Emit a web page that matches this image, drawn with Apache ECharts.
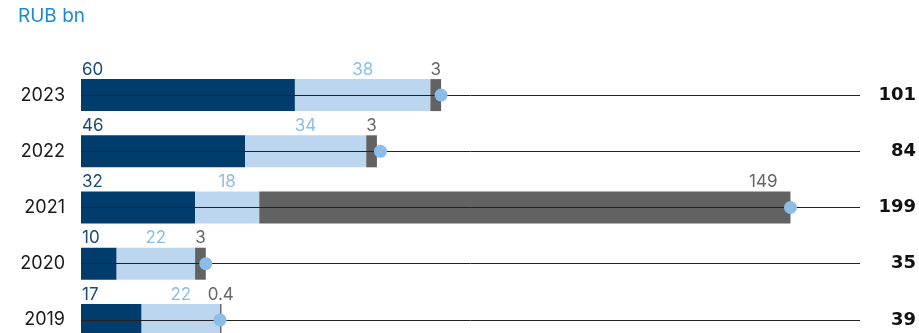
<!DOCTYPE html>
<html>
<head>
<meta charset="utf-8">
<script src="https://cdn.jsdelivr.net/npm/echarts@6/dist/echarts.min.js"></script>
<style>
  html, body { margin: 0; padding: 0; background: #fff; overflow: hidden; }
  #chart { width: 919px; height: 360px; }
</style>
</head>
<body>
<div id="chart"></div>
<script>
// Years, top to bottom
const years = ['2023', '2022', '2021', '2020', '2019'];
// Stacked components, RUB bn
const partA = [60, 46, 32, 10, 17];
const partB = [38, 34, 18, 22, 22];
const partC = [3, 3, 149, 3, 0.4];
// Reported totals, RUB bn
const totals = [101, 84, 199, 35, 39];

const FONT = 'Inter, "Noto Sans", sans-serif';
const NAVY = '#003c6c';
const LIGHT = '#bcd6f0';
const GREY = '#626262';

const chart = echarts.init(document.getElementById('chart'));

const labelBase = { show: true, fontFamily: FONT, fontSize: 17, distance: 1 };

chart.setOption({
  animation: false,
  title: {
    text: 'RUB bn', left: 13, top: 2,
    textStyle: { fontFamily: FONT, fontSize: 19, fontWeight: 'normal', color: '#1a8ad4' }
  },
  grid: { left: 81, right: 59, top: 67, height: 281, containLabel: false },
  xAxis: {
    type: 'value', min: 0, max: 218.5, show: false
  },
  yAxis: [
    {
      type: 'category', data: years, inverse: true,
      axisLine: { show: false }, axisTick: { show: false }, splitLine: { show: false },
      axisLabel: { fontFamily: FONT, fontSize: 18, color: '#1a1a1a', margin: 16 }
    },
    {
      type: 'category', data: years, inverse: true, position: 'right',
      axisLine: { show: false }, axisTick: { show: false }, splitLine: { show: false },
      axisLabel: {
        fontFamily: '"DejaVu Sans", sans-serif', fontSize: 18, fontWeight: 'bold', color: '#111',
        align: 'right', margin: 56,
        formatter: (v, i) => String(totals[i])
      }
    }
  ],
  series: [
    {
      type: 'bar', stack: 'sum', data: partA, barWidth: 32,
      itemStyle: { color: NAVY },
      label: Object.assign({}, labelBase, {
        position: [0, 0], align: 'left', verticalAlign: 'bottom', offset: [1, -1],
        color: '#1b4a76'
      }),
      z: 2
    },
    {
      type: 'bar', stack: 'sum', data: partB, barWidth: 32,
      itemStyle: { color: LIGHT },
      label: Object.assign({}, labelBase, { position: 'top', color: '#8dbde6' }),
      z: 2
    },
    {
      type: 'bar', stack: 'sum', barWidth: 32,
      data: partC.map((v, i) => years[i] === '2021'
        ? { value: v, label: { position: ['100%', 0], align: 'right', verticalAlign: 'bottom', offset: [-13, -1] } }
        : v),
      itemStyle: { color: GREY },
      label: Object.assign({}, labelBase, { position: 'top', color: '#666' }),
      z: 2
    },
    {
      // guide line through every row
      type: 'line', data: [], z: 4,
      markLine: {
        silent: true, symbol: 'none', animation: false,
        label: { show: false },
        lineStyle: { color: '#222', width: 1, type: 'solid' },
        data: years.map(y => ({ yAxis: y }))
      }
    },
    {
      type: 'scatter', data: totals, symbolSize: 13, z: 6,
      itemStyle: { color: '#8bbde8', opacity: 1 }
    }
  ]
});
</script>
</body>
</html>
